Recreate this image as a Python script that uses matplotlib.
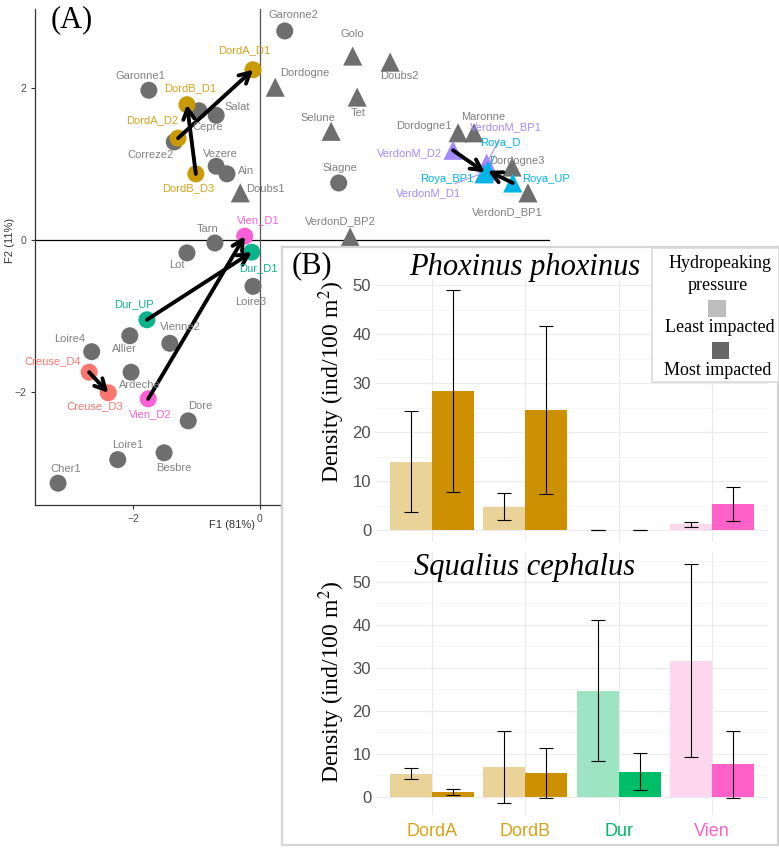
import numpy as np
import matplotlib.pyplot as plt
from matplotlib.patches import Rectangle

plt.rcParams["mathtext.fontset"] = "stix"

W, H = 779, 848
SANS = ["Liberation Sans", "DejaVu Sans"]
SERIF = ["Liberation Serif", "DejaVu Serif"]

# ---- panel A: PCA scores ----
site_names = ["Garonne2", "Golo", "Doubs2", "Dordogne", "Tet", "Garonne1", "Salat", "Cepre",
              "Correze2", "Selune", "Vezere", "Ain", "Siagne", "Doubs1", "VerdonD_BP2", "Tarn",
              "Lot", "Loire3", "Vienne2", "Allier", "Loire4", "Ardeche", "Dore", "Loire1",
              "Besbre", "Cher1", "Dordogne1", "Maronne", "Dordogne3", "VerdonD_BP1",
              "DordA_D1", "DordA_D2", "DordB_D1", "DordB_D3", "Vien_D1", "Vien_D2",
              "Dur_D1", "Dur_UP", "Creuse_D4", "Creuse_D3",
              "VerdonM_D2", "VerdonM_BP1", "VerdonM_D1", "Roya_D", "Roya_BP1", "Roya_UP"]
f1 = [0.39, 1.46, 2.05, 0.24, 1.53, -1.75, -0.69, -0.96,
      -1.35, 1.12, -0.69, -0.52, 1.24, -0.31, 1.42, -0.71,
      -1.15, -0.11, -1.42, -2.05, -2.65, -2.03, -1.13, -2.24,
      -1.51, -3.18, 3.12, 3.37, 3.97, 4.22,
      -0.11, -1.29, -1.15, -1.01, -0.24, -1.76,
      -0.13, -1.78, -2.69, -2.39,
      3.04, 3.57, 3.54, 3.59, 3.53, 3.98]
f2 = [2.75, 2.42, 2.34, 2.01, 1.88, 1.97, 1.64, 1.70,
      1.29, 1.43, 0.97, 0.87, 0.75, 0.62, 0.04, -0.04,
      -0.17, -0.61, -1.36, -1.26, -1.47, -1.74, -2.38, -2.89,
      -2.80, -3.20, 1.41, 1.41, 0.96, 0.62,
      2.24, 1.34, 1.78, 0.87, 0.05, -2.09,
      -0.16, -1.05, -1.74, -2.01,
      1.18, 1.01, 0.89, 0.91, 0.87, 0.75]
shape = ["o", "^", "^", "^", "^", "o", "o", "o",
         "o", "^", "o", "o", "o", "^", "^", "o",
         "o", "o", "o", "o", "o", "o", "o", "o",
         "o", "o", "^", "^", "^", "^",
         "o", "o", "o", "o", "o", "o",
         "o", "o", "o", "o",
         "^", "^", "^", "^", "^", "^"]
group = ["other"] * 30 + ["Dord"] * 4 + ["Vien"] * 2 + ["Dur"] * 2 + ["Creuse"] * 2 + \
        ["VerdonM"] * 3 + ["Roya"] * 3

arrows = [("DordA_D2", "DordA_D1"), ("DordB_D3", "DordB_D1"), ("Dur_UP", "Dur_D1"),
          ("Vien_D2", "Vien_D1"), ("Creuse_D4", "Creuse_D3"),
          ("VerdonM_D2", "VerdonM_D1"), ("Roya_UP", "Roya_D")]

# label placement (repelled text positions, data units)
label_xy = {
    "Garonne2": (0.52, 2.96), "Golo": (1.46, 2.71), "Doubs2": (2.20, 2.16),
    "Dordogne": (0.71, 2.20), "Tet": (1.54, 1.67), "Garonne1": (-1.89, 2.16),
    "Salat": (-0.36, 1.75), "Cepre": (-0.83, 1.49), "Correze2": (-1.73, 1.12),
    "Selune": (0.91, 1.61), "Vezere": (-0.63, 1.13), "Ain": (-0.22, 0.91),
    "Siagne": (1.26, 0.95), "Doubs1": (0.08, 0.67), "VerdonD_BP2": (1.26, 0.25),
    "Tarn": (-0.83, 0.14), "Lot": (-1.31, -0.33), "Loire3": (-0.14, -0.82),
    "Vienne2": (-1.26, -1.14), "Allier": (-2.14, -1.43), "Loire4": (-2.99, -1.30),
    "Ardeche": (-1.89, -1.91), "Dore": (-0.94, -2.18), "Loire1": (-2.09, -2.70),
    "Besbre": (-1.35, -3.00), "Cher1": (-3.06, -3.01), "Dordogne1": (2.58, 1.50),
    "Maronne": (3.51, 1.62), "Dordogne3": (4.05, 1.04), "VerdonD_BP1": (3.89, 0.37),
    "DordA_D1": (-0.25, 2.50), "DordA_D2": (-1.69, 1.58), "DordB_D1": (-1.10, 2.00),
    "DordB_D3": (-1.13, 0.68), "Vien_D1": (-0.03, 0.26), "Vien_D2": (-1.72, -2.29),
    "Dur_D1": (-0.03, -0.37), "Dur_UP": (-1.98, -0.84), "Creuse_D4": (-3.26, -1.59),
    "Creuse_D3": (-2.61, -2.18), "VerdonM_D2": (2.35, 1.14), "VerdonM_BP1": (3.87, 1.49),
    "VerdonM_D1": (2.66, 0.61), "Roya_D": (3.78, 1.28), "Roya_BP1": (2.94, 0.80),
    "Roya_UP": (4.50, 0.80),
}
segment_labels = ["VerdonM_BP1", "VerdonM_D1", "Roya_D"]

pt_colors = {"other": "#6e6e6e", "Dord": "#c99a06", "Vien": "#fa5fd6", "Dur": "#0db38c",
             "Creuse": "#f8766d", "VerdonM": "#a58aff", "Roya": "#00b4e8"}
txt_colors = {"other": "#808080", "Dord": "#d6a31c", "Vien": "#fa5fd6", "Dur": "#0db38c",
              "Creuse": "#f8766d", "VerdonM": "#a58aff", "Roya": "#00b4e8"}

# ---- panel B: densities ----
categories = ["DordA", "DordB", "Dur", "Vien"]
cat_colors = ["#d6a31c", "#d6a31c", "#00ba68", "#ff61c9"]
most_colors = ["#cc9000", "#cc9000", "#00be67", "#ff61c9"]
least_colors = ["#e9d399", "#e9d399", "#9ce4c2", "#fdd7ee"]

phox_least = [13.9, 4.8, 0.0, 1.2]
phox_least_lo = [3.6, 2.0, 0.0, 0.7]
phox_least_hi = [24.4, 7.5, 0.0, 1.7]
phox_most = [28.4, 24.5, 0.0, 5.4]
phox_most_lo = [7.7, 7.3, 0.0, 1.8]
phox_most_hi = [49.0, 41.7, 0.0, 8.8]

squa_least = [5.3, 6.8, 24.6, 31.7]
squa_least_lo = [4.1, -1.5, 8.3, 9.2]
squa_least_hi = [6.6, 15.3, 41.1, 54.3]
squa_most = [1.0, 5.4, 5.8, 7.5]
squa_most_lo = [0.4, -0.3, 1.5, -0.4]
squa_most_hi = [1.8, 11.2, 10.1, 15.2]


def box(l, t, r, b):
    return [l / W, 1 - b / H, (r - l) / W, (b - t) / H]


def ftext(x, y, s, **kw):
    fig.text(x / W, 1 - y / H, s, ha="center", va="center", **kw)


fig = plt.figure(figsize=(W / 100, H / 100), dpi=100)

# ---------------- panel A ----------------
axA = fig.add_axes(box(35, 9, 550, 505))
axA.set_xlim(-3.543, 4.567)
axA.set_ylim(-3.487, 3.039)
axA.axhline(0, color="black", lw=0.9, zorder=1)
axA.axvline(0, color="#555555", lw=0.9, zorder=1)
for s in ["top", "right"]:
    axA.spines[s].set_visible(False)
for s in ["left", "bottom"]:
    axA.spines[s].set_color("#333333")
    axA.spines[s].set_linewidth(0.9)
axA.set_xticks([-2, 0])
axA.set_yticks([-2, 0, 2])
axA.tick_params(labelsize=7.5, labelcolor="#4d4d4d", color="#333333", length=3)
for lab in axA.get_xticklabels() + axA.get_yticklabels():
    lab.set_family(SANS)

idx = {n: i for i, n in enumerate(site_names)}
order = sorted(range(len(site_names)), key=lambda i: group[i] != "other")
for i in order:
    axA.scatter(f1[i], f2[i], marker=shape[i], s=150 if shape[i] == "o" else 190,
                color=pt_colors[group[i]], edgecolors="none", zorder=3)

for a, b in arrows:
    axA.annotate("", xy=(f1[idx[b]], f2[idx[b]]), xytext=(f1[idx[a]], f2[idx[a]]),
                 arrowprops=dict(arrowstyle="->,head_length=0.75,head_width=0.4",
                                 lw=2.8, color="black", shrinkA=0, shrinkB=0),
                 zorder=4)

for n in site_names:
    i = idx[n]
    tx, ty = label_xy[n]
    if n in segment_labels:
        axA.annotate(n, xy=(f1[i], f2[i]), xytext=(tx, ty), ha="center", va="center",
                     fontsize=8, family=SANS, color=txt_colors[group[i]], zorder=5,
                     arrowprops=dict(arrowstyle="-", lw=0.7, color=txt_colors[group[i]],
                                     shrinkA=4, shrinkB=3))
    else:
        axA.text(tx, ty, n, ha="center", va="center", fontsize=8, family=SANS,
                 color=txt_colors[group[i]], zorder=5)

ftext(232, 525, "F1 (81%)", fontsize=8, family=SANS, color="#333333")
ftext(10, 240, "F2 (11%)", fontsize=8, family=SANS, color="#333333", rotation=90)
ftext(72, 20, "(A)", fontsize=22, family=SERIF)

# ---------------- panel B ----------------
axBg = fig.add_axes(box(282, 247, 778, 845))
axBg.set_xticks([])
axBg.set_yticks([])
axBg.set_facecolor("white")
for s in axBg.spines.values():
    s.set_color("#d5d5d5")
    s.set_linewidth(1.6)

x = np.arange(len(categories))
bw = 0.45


def bar_panel(rect, least, llo, lhi, most, mlo, mhi, ylim, show_x):
    ax = fig.add_axes(rect)
    ax.set_facecolor("none")
    ax.set_xlim(-0.6, 3.6)
    ax.set_ylim(*ylim)
    ax.set_yticks(np.arange(0, ylim[1], 10))
    ax.set_yticks(np.arange(5, ylim[1], 10), minor=True)
    ax.set_xticks(x)
    ax.grid(True, which="major", color="#ebebeb", lw=0.9)
    ax.grid(True, which="minor", axis="y", color="#f3f3f3", lw=0.6)
    ax.set_axisbelow(True)
    for s in ax.spines.values():
        s.set_visible(False)
    ax.tick_params(which="both", length=0, labelsize=12, labelcolor="#4d4d4d")
    for lab in ax.get_yticklabels():
        lab.set_family(SANS)
    ax.bar(x - bw / 2, least, bw, color=least_colors)
    ax.bar(x + bw / 2, most, bw, color=most_colors)
    least, most = np.array(least), np.array(most)
    ax.errorbar(x - bw / 2, least, yerr=[least - np.array(llo), np.array(lhi) - least],
                fmt="none", ecolor="black", elinewidth=0.8, capsize=5, capthick=0.8)
    ax.errorbar(x + bw / 2, most, yerr=[most - np.array(mlo), np.array(mhi) - most],
                fmt="none", ecolor="black", elinewidth=0.8, capsize=5, capthick=0.8)
    if show_x:
        ax.set_xticklabels(categories, fontsize=13, family=SANS)
        ax.tick_params(axis="x", pad=6)
        for lab, c in zip(ax.get_xticklabels(), cat_colors):
            lab.set_color(c)
    else:
        ax.set_xticklabels([])
    return ax


bar_panel(box(376, 279, 768, 542), phox_least, phox_least_lo, phox_least_hi,
          phox_most, phox_most_lo, phox_most_hi, (-2.45, 51.3), False)
bar_panel(box(376, 552, 768, 815), squa_least, squa_least_lo, squa_least_hi,
          squa_most, squa_most_lo, squa_most_hi, (-4.3, 57.0), True)

ylab = "Density (ind/100 m$^2$)"
ftext(332, 382, ylab, fontsize=17, family=SERIF, rotation=90)
ftext(332, 682, ylab, fontsize=17, family=SERIF, rotation=90)
ftext(525, 268, "Phoxinus phoxinus", fontsize=22, family=SERIF, style="italic")
ftext(525, 567, "Squalius cephalus", fontsize=22, family=SERIF, style="italic")
ftext(312, 266, "(B)", fontsize=22, family=SERIF)

# legend
fig.patches.append(Rectangle((652 / W, 1 - 382 / H), 127 / W, 134 / H, transform=fig.transFigure,
                             facecolor="white", edgecolor="#d9d9d9", lw=1.2))
fig.patches.append(Rectangle((708 / W, 1 - 317 / H), 18 / W, 17 / H, transform=fig.transFigure,
                             facecolor="#bdbdbd", edgecolor="none"))
fig.patches.append(Rectangle((712 / W, 1 - 359 / H), 17 / W, 17 / H, transform=fig.transFigure,
                             facecolor="#666666", edgecolor="none"))
ftext(720, 264, "Hydropeaking", fontsize=13, family=SERIF)
ftext(718, 286, "pressure", fontsize=13, family=SERIF)
ftext(720, 328, "Least impacted", fontsize=13, family=SERIF)
ftext(718, 370, "Most impacted", fontsize=13, family=SERIF)

fig.savefig("out.png", dpi=100)
